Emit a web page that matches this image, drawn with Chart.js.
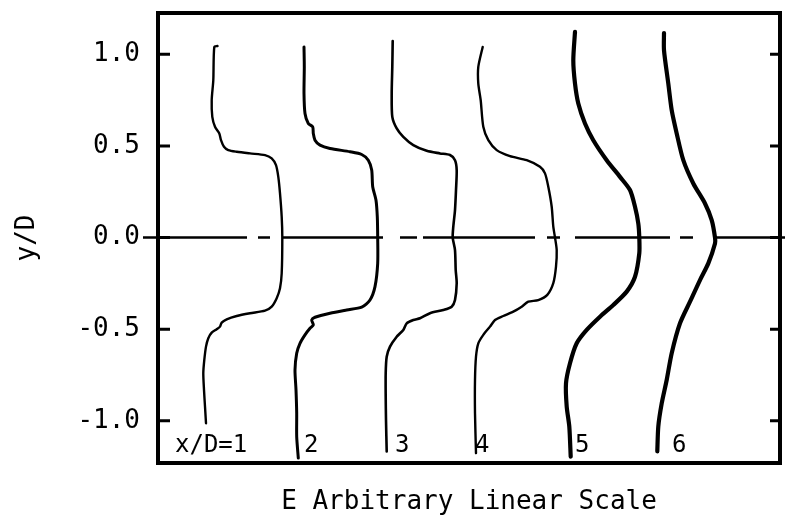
<!DOCTYPE html>
<html>
<head>
<meta charset="utf-8">
<title>Mean velocity profiles, x/D = 1 to 6</title>
<script src="https://cdn.jsdelivr.net/npm/chart.js@4.4.1/dist/chart.umd.min.js"></script>
<style>
  html, body { margin: 0; padding: 0; background: #fff; }
  #wrap { width: 785px; height: 520px; }
</style>
</head>
<body>
<div id="wrap"><canvas id="chart" width="785" height="520"></canvas></div>
<script>
// tick values on the y/D axis
const yTicks = [-1.0, -0.5, 0.0, 0.5, 1.0];

// one label per station, written under each profile
const stationLabels = ['x/D=1', '2', '3', '4', '5', '6'];

// profiles: [E (arbitrary units), y/D]
const profile1 = [
    [59.5, 1.045], [56.3, 1.040], [55.3, 0.858], [53.7, 0.749], [54.3, 0.658], [57, 0.604],
    [61.3, 0.568], [63, 0.531], [66, 0.495], [70.3, 0.477], [78.7, 0.468], [92, 0.459],
    [107, 0.450], [113.7, 0.432], [118, 0.395], [120.3, 0.331], [122, 0.241], [123.7, 0.113],
    [124.3, 0], [123.7, -0.195], [122, -0.277], [118.7, -0.331], [113.7, -0.377], [107, -0.399],
    [92, -0.413], [78.7, -0.428], [68.7, -0.446], [63.7, -0.464], [62, -0.486], [58.7, -0.500],
    [53.7, -0.519], [50.3, -0.549], [48, -0.595], [46.3, -0.668], [45.3, -0.740], [46, -0.831],
    [47, -0.922], [48, -1.013]
];
const profile2 = [
    [146, 1.040], [146.3, 0.931], [146, 0.786], [147, 0.677], [150.3, 0.622], [154.7, 0.604],
    [155.3, 0.568], [157, 0.531], [162, 0.504], [172, 0.486], [192, 0.468], [203.7, 0.453],
    [210.3, 0.422], [213.7, 0.368], [214.7, 0.277], [218, 0.204], [219.3, 0.113], [219.7, 0],
    [219.7, -0.141], [217, -0.268], [212, -0.341], [203.7, -0.380], [188.7, -0.395], [172, -0.413],
    [157, -0.435], [153.7, -0.450], [155.3, -0.477], [152, -0.495], [147, -0.531], [142, -0.577],
    [138.7, -0.631], [137, -0.722], [138, -0.831], [138.7, -0.958], [138.7, -1.086], [140.3, -1.203]
];
const profile3 = [
    [234.7, 1.072], [234.3, 0.931], [233.7, 0.786], [234.3, 0.658], [238.7, 0.595], [245.3, 0.549],
    [255.3, 0.504], [268.7, 0.473], [282, 0.459], [292, 0.450], [297, 0.422], [298.7, 0.368],
    [298, 0.259], [297, 0.150], [295.3, 0.059], [294.7, 0], [297, -0.068], [297.7, -0.177],
    [298.7, -0.249], [297, -0.341], [293.7, -0.377], [285.3, -0.395], [272, -0.413], [262, -0.440],
    [255.3, -0.450], [248.7, -0.468], [245.3, -0.504], [238.7, -0.541], [232, -0.595], [228.7, -0.650],
    [227.7, -0.740], [227.7, -0.868], [228, -0.995], [228.7, -1.167]
];
const profile4 = [
    [324.7, 1.040], [320.3, 0.931], [320.3, 0.840], [322.7, 0.749], [325.3, 0.604], [330.3, 0.531],
    [338.7, 0.477], [352, 0.444], [368.7, 0.422], [382, 0.386], [387, 0.350], [390.3, 0.277],
    [393.7, 0.168], [395.3, 0.059], [397, 0], [398.7, -0.068], [398, -0.159], [395.3, -0.249],
    [389.3, -0.313], [380.3, -0.341], [370.3, -0.350], [363.7, -0.377], [355.3, -0.404], [345.3, -0.428],
    [337, -0.450], [332, -0.486], [325.3, -0.531], [320.3, -0.577], [318, -0.650], [317, -0.777],
    [317, -0.958], [318, -1.176]
];
const profile5 = [
    [417, 1.122], [415.3, 0.967], [417, 0.840], [420.3, 0.731], [427, 0.622], [435.3, 0.531],
    [448.7, 0.422], [462, 0.331], [472, 0.259], [477, 0.168], [480.3, 0.077], [481.3, 0],
    [481.3, -0.086], [477, -0.214], [468.7, -0.295], [455.3, -0.368], [442, -0.432], [428.7, -0.504],
    [418.7, -0.577], [412, -0.686], [408, -0.795], [408.7, -0.922], [411.3, -1.031], [412.7, -1.195]
];
const profile6 = [
    [506, 1.116], [506, 1.022], [510.3, 0.840], [513.7, 0.695], [518.7, 0.568], [525.3, 0.422],
    [535.3, 0.295], [547, 0.186], [553.7, 0.095], [557, 0], [557, -0.032], [550.3, -0.141],
    [542, -0.232], [532, -0.350], [522, -0.468], [513.7, -0.631], [508.7, -0.777], [503.7, -0.905],
    [500.3, -1.031], [499.3, -1.167]
];

const profiles = [profile1, profile2, profile3, profile4, profile5, profile6];
const lineWidths = [2.4, 3, 2.6, 2.4, 4.2, 4.2];

const FONT = "'DejaVu Sans Mono', monospace";

// where the station labels sit (E units, y/D)
const labelX = [17, 146, 237, 317, 417, 514];
const labelY = -1.136;

/**
 * Ramka, wewnętrzne kreski podziałki, linia y/D = 0 i podpisy stacji.
 */
const framePlugin = {
    id: 'frame',
    afterDatasetsDraw(chart) {
        const { ctx, chartArea: a, scales: { x, y } } = chart;
        ctx.save();
        ctx.strokeStyle = '#000';
        ctx.fillStyle = '#000';

        // centreline, broken in a few spots like the original drawing
        const y0 = y.getPixelForValue(0);
        ctx.lineWidth = 2.6;
        ctx.setLineDash([104, 11, 12, 12, 101, 17, 17, 6, 112, 12, 13, 15, 95, 10, 13, 20, 90, 0]);
        ctx.beginPath();
        ctx.moveTo(a.left - 15, y0);
        ctx.lineTo(chart.width, y0);
        ctx.stroke();
        ctx.setLineDash([]);

        // ticks pointing inward on both sides
        ctx.lineWidth = 3;
        yTicks.forEach(v => {
            const py = y.getPixelForValue(v);
            ctx.beginPath();
            ctx.moveTo(a.left, py);
            ctx.lineTo(a.left + 12, py);
            ctx.moveTo(a.right - 10, py);
            ctx.lineTo(a.right, py);
            ctx.stroke();
        });

        ctx.lineWidth = 4;
        ctx.strokeRect(a.left, a.top, a.right - a.left, a.bottom - a.top);

        ctx.font = `24px ${FONT}`;
        ctx.textAlign = 'left';
        ctx.textBaseline = 'middle';
        stationLabels.forEach((t, i) => {
            ctx.fillText(t, x.getPixelForValue(labelX[i]), y.getPixelForValue(labelY));
        });
        ctx.restore();
    }
};

const datasets = profiles.map((p, i) => ({
    label: stationLabels[i],
    data: p.map(pt => ({ x: pt[0], y: pt[1] })),
    showLine: true,
    borderColor: '#000',
    borderWidth: lineWidths[i],
    pointRadius: 0,
    tension: 0.25,
    borderCapStyle: 'round',
    borderJoinStyle: 'round'
}));

new Chart(document.getElementById('chart'), {
    type: 'scatter',
    data: { datasets },
    options: {
        responsive: false,
        animation: false,
        devicePixelRatio: 1,
        events: [],
        layout: { padding: { top: 13, right: 5, left: 0, bottom: 0 } },
        plugins: {
            legend: { display: false },
            tooltip: { enabled: false }
        },
        scales: {
            x: {
                type: 'linear',
                min: 0,
                max: 622,
                grid: { display: false, drawTicks: false },
                border: { display: false },
                ticks: { display: false },
                title: {
                    display: true,
                    text: 'E Arbitrary Linear Scale',
                    color: '#000',
                    font: { family: FONT, size: 26 },
                    padding: { top: 0, bottom: 2 }
                },
                afterFit: s => { s.height = 57; }
            },
            y: {
                type: 'linear',
                min: -1.23,
                max: 1.225,
                afterBuildTicks: s => { s.ticks = yTicks.map(v => ({ value: v })); },
                grid: { display: false, drawTicks: false },
                border: { display: false },
                ticks: {
                    color: '#000',
                    padding: 18,
                    font: { family: FONT, size: 26 },
                    callback: v => Number(v).toFixed(1)
                },
                title: {
                    display: true,
                    text: 'y/D',
                    color: '#000',
                    font: { family: FONT, size: 26 },
                    padding: { top: 12, bottom: 0 }
                },
                // labels at ±1.0 are well inside, so no extra room at the ends
                afterFit: s => {
                    s.width = 158;
                    s.paddingTop = 0;
                    s.paddingBottom = 0;
                }
            }
        }
    },
    plugins: [framePlugin]
});
</script>
</body>
</html>
